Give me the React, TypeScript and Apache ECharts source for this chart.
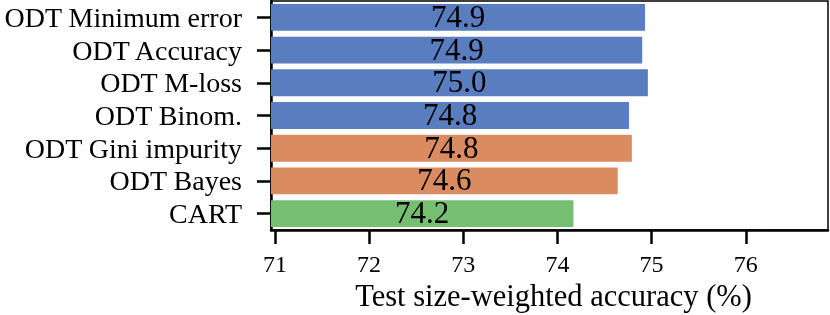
import React, { useEffect, useRef } from "react";
import * as echarts from "echarts";

const categories = [
  "ODT Minimum error",
  "ODT Accuracy",
  "ODT M-loss",
  "ODT Binom.",
  "ODT Gini impurity",
  "ODT Bayes",
  "CART",
];
const values = [74.93, 74.9, 74.96, 74.76, 74.79, 74.64, 74.17];
const barColors = ["#597dbf", "#597dbf", "#597dbf", "#597dbf", "#da8b5f", "#da8b5f", "#76bf71"];
const xTicks = [71, 72, 73, 74, 75, 76];
const xName = "Test size-weighted accuracy (%)";

const FONT = "'Liberation Serif', 'Times New Roman', serif";

export default function App() {
  const ref = useRef<HTMLDivElement>(null);
  useEffect(() => {
    if (!ref.current) return;
    const chart = echarts.init(ref.current, null, { renderer: "svg" });
    chart.setOption({
      animation: false,
      grid: {
        left: 271,
        right: 2,
        top: 1,
        bottom: 85,
        outerBoundsMode: "none",
        containLabel: false,
        show: true,
        borderColor: "#000",
        borderWidth: 1.5,
        backgroundColor: "transparent",
      },
      xAxis: {
        type: "value",
        min: 70.958,
        max: 76.873,
        name: xName,
        nameLocation: "middle",
        nameGap: 46,
        nameTextStyle: { fontFamily: FONT, fontSize: 30.5, color: "#000", padding: [0, 0, 0, 8] },
        axisLine: { show: true, lineStyle: { color: "#000", width: 2.5 } },
        axisTick: { show: true, length: 14, lineStyle: { color: "#000", width: 2.5 }, customValues: xTicks },
        axisLabel: { fontFamily: FONT, fontSize: 24, color: "#000", margin: 22, customValues: xTicks },
        splitLine: { show: false },
      },
      yAxis: {
        type: "category",
        data: categories,
        inverse: true,
        axisLine: { show: true, lineStyle: { color: "#000", width: 2.5 } },
        axisTick: { show: true, length: 14, alignWithLabel: true, interval: 0, lineStyle: { color: "#000", width: 2.5 } },
        axisLabel: { fontFamily: FONT, fontSize: 28, color: "#000", margin: 29, interval: 0 },
      },
      series: [
        {
          type: "bar",
          barCategoryGap: "18%",
          data: values.map((v, i) => ({ value: v, itemStyle: { color: barColors[i] } })),
          label: {
            show: true,
            position: "inside",
            offset: [0, -1],
            fontFamily: FONT,
            fontSize: 31,
            lineHeight: 26,
            color: "#000",
            formatter: (p: any) => Number(p.value).toFixed(1),
          },
        },
      ],
    });
    return () => chart.dispose();
  }, []);
  return <div ref={ref} style={{ position: "fixed", left: 0, top: 0, width: 830, height: 315 }} />;
}
